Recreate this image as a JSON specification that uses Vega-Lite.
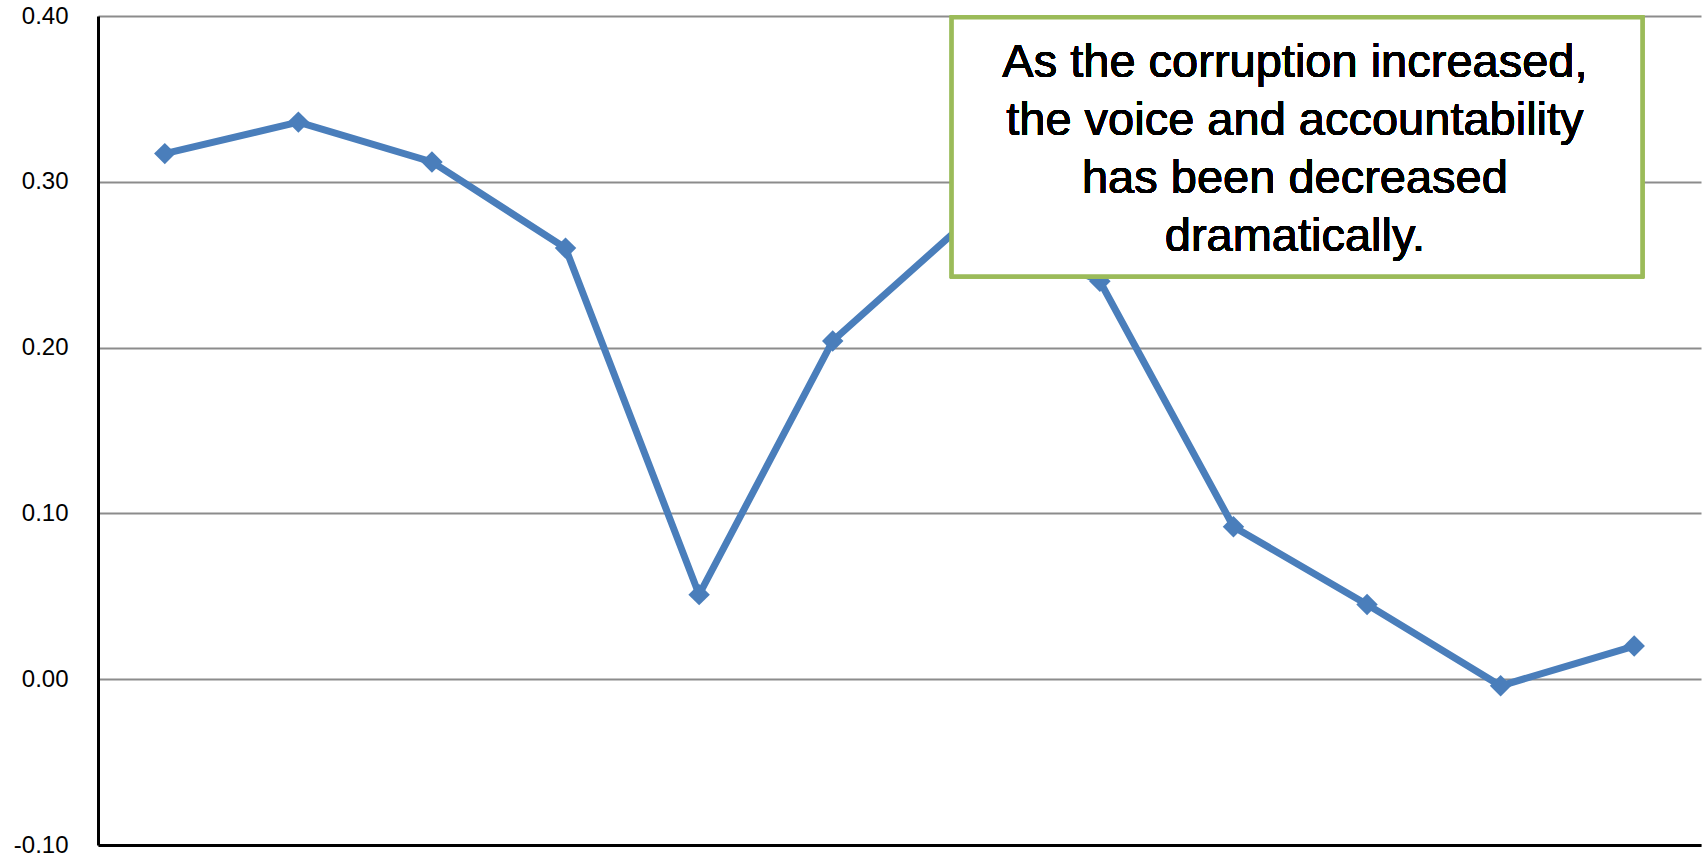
{
  "$schema": "https://vega.github.io/schema/vega-lite/v6.json",
  "width": 1603,
  "height": 829,
  "autosize": {"type": "none"},
  "padding": {"left": 98, "top": 16, "right": 3, "bottom": 14},
  "background": "white",
  "config": {"view": {"stroke": null}, "font": "Liberation Sans"},
  "data": {
    "values": [
      {"idx": 1, "value": 0.317},
      {"idx": 2, "value": 0.336},
      {"idx": 3, "value": 0.312},
      {"idx": 4, "value": 0.260},
      {"idx": 5, "value": 0.051},
      {"idx": 6, "value": 0.204},
      {"idx": 7, "value": 0.276},
      {"idx": 8, "value": 0.240},
      {"idx": 9, "value": 0.092},
      {"idx": 10, "value": 0.045},
      {"idx": 11, "value": -0.004},
      {"idx": 12, "value": 0.020}
    ]
  },
  "layer": [
    {
      "mark": {"type": "line", "color": "#4A7EBB", "strokeWidth": 7},
      "encoding": {
        "x": {
          "field": "idx", "type": "quantitative",
          "scale": {"domain": [0.5, 12.5], "nice": false, "zero": false},
          "axis": {"title": null, "labels": false, "ticks": false, "grid": false, "domainColor": "black", "domainWidth": 3}
        },
        "y": {
          "field": "value", "type": "quantitative",
          "scale": {"domain": [-0.1, 0.4], "nice": false, "zero": false},
          "axis": {
            "title": null, "values": [-0.1, 0, 0.1, 0.2, 0.3, 0.4],
            "labelExpr": "replace(format(datum.value, '.2f'), '\u2212', '-')",
            "ticks": false, "labelFontSize": 24, "labelColor": "black", "labelPadding": 30,
            "domainColor": "black", "domainWidth": 3,
            "grid": true, "gridColor": "#8C8C8C", "gridWidth": 2
          }
        }
      }
    },
    {
      "mark": {"type": "point", "shape": "diamond", "filled": true, "size": 460, "color": "#4A7EBB", "opacity": 1},
      "encoding": {
        "x": {"field": "idx", "type": "quantitative"},
        "y": {"field": "value", "type": "quantitative"}
      }
    },
    {
      "mark": {"type": "rect", "fill": "white", "stroke": "#9BBB59", "strokeWidth": 4},
      "encoding": {
        "x": {"datum": 6.892},
        "x2": {"datum": 12.06},
        "y": {"datum": 0.3991},
        "y2": {"datum": 0.2431}
      }
    },
    {
      "mark": {"type": "text", "align": "center", "baseline": "alphabetic", "fontSize": 47, "lineHeight": 58, "color": "black",
        "text": ["As the corruption increased,", "the voice and accountability", "has been decreased", "dramatically."]},
      "encoding": {
        "x": {"datum": 9.46},
        "y": {"datum": 0.3631}
      }
    }
  ]
}
